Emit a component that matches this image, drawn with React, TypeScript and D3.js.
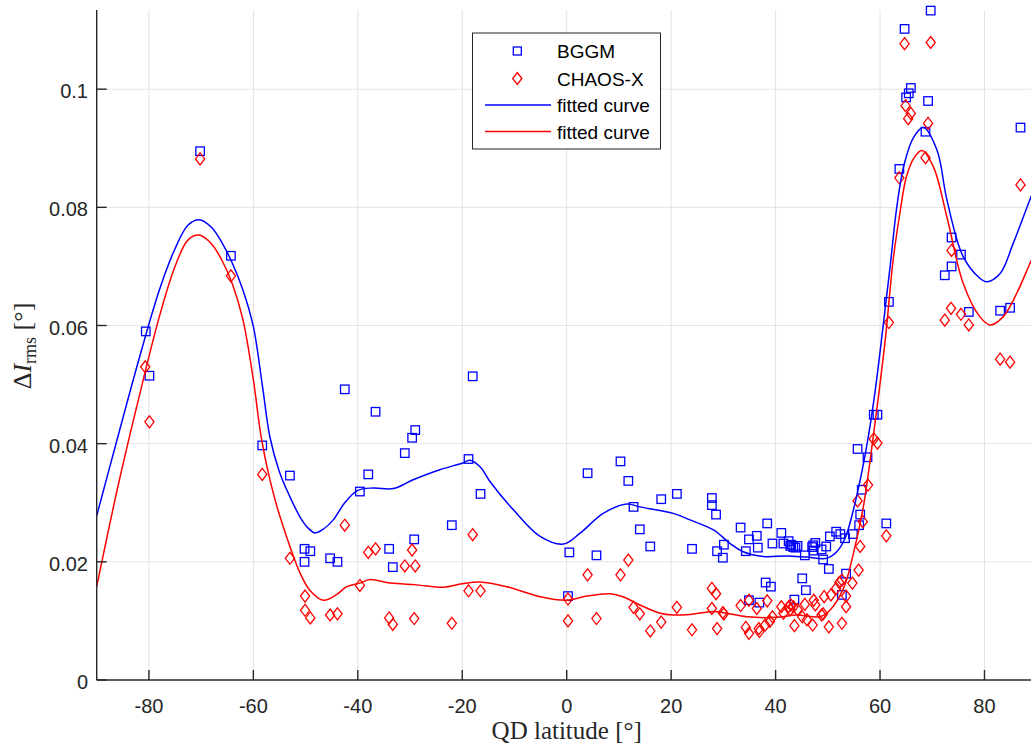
import React from 'react';
import * as d3 from 'd3';

// ---- data ----
const xTicks = [-80, -60, -40, -20, 0, 20, 40, 60, 80];
const xTickLabels = ['-80', '-60', '-40', '-20', '0', '20', '40', '60', '80'];
const yTicks = [0, 0.02, 0.04, 0.06, 0.08, 0.1];
const yTickLabels = ['0', '0.02', '0.04', '0.06', '0.08', '0.1'];

const bggmLat = [
  -80.6, -79.9, -70.2, -64.3, -58.3, -53.0, -50.2, -49.1, -50.2, -45.3, -43.9, -42.5,
  -39.6, -38.0, -36.6, -34.0, -33.3, -31.0, -29.6, -29.0, -29.2, -22.0, -18.8, -18.0,
  -16.5, 0.5, 0.25, 4.0, 5.7, 10.3, 11.8, 12.8, 14.0, 16.0, 18.1, 21.1, 24.0,
  27.8, 27.8, 28.6, 30.1, 28.8, 29.9, 33.3, 34.9, 36.4, 34.3, 36.6, 38.4, 39.4,
  41.1, 41.5, 42.5, 42.8, 43.4, 44.2, 45.6, 47.0, 47.6, 47.3, 48.8, 49.1, 49.7,
  50.2, 50.4, 51.6, 52.4, 53.3, 54.8, 56.2, 56.0, 56.5, 55.7, 57.6, 58.8, 59.5,
  61.2, 45.1, 45.8, 38.1, 39.1, 34.9, 36.9, 43.6, 53.5, 52.7, 43.0, 43.8, 47.2,
  61.7, 63.7, 64.7, 65.9, 65.5, 65.0, 69.2, 68.7, 69.7, 72.4, 73.7, 73.7, 75.5,
  77.0, 83.0, 84.9, 86.9,
];
const bggmVal = [
  0.0590, 0.0515, 0.0895, 0.0718, 0.0397, 0.0346, 0.0222, 0.0218, 0.0200, 0.0206, 0.0200, 0.0492,
  0.0319, 0.0348, 0.0454, 0.0222, 0.0191, 0.0384, 0.0410, 0.0423, 0.0238, 0.0262, 0.0374, 0.0514,
  0.0315, 0.0216, 0.0142, 0.0350, 0.0211, 0.0370, 0.0337, 0.0293, 0.0255, 0.0226, 0.0306, 0.0315, 0.0222,
  0.0308, 0.0296, 0.0280, 0.0229, 0.0218, 0.0207, 0.0258, 0.0238, 0.0244, 0.0218, 0.0224, 0.0265, 0.0231,
  0.0249, 0.0231, 0.0235, 0.0227, 0.0225, 0.0227, 0.0211, 0.0225, 0.0232, 0.0219, 0.0221, 0.0204, 0.0226,
  0.0188, 0.0243, 0.0251, 0.0247, 0.0240, 0.0247, 0.0280, 0.0262, 0.0322, 0.0391, 0.0377, 0.0449, 0.0449,
  0.0265, 0.0172, 0.0152, 0.0165, 0.0158, 0.0135, 0.0131, 0.0136, 0.0180, 0.0144, 0.0229, 0.0224, 0.0228,
  0.0640, 0.0865, 0.1102, 0.1002, 0.0993, 0.0986, 0.0980, 0.0928, 0.1133, 0.0685, 0.0749, 0.0700, 0.0720,
  0.0623, 0.0625, 0.0630, 0.0935,
];

const chaosLat = [
  -80.7, -79.9, -70.2, -64.3, -58.3, -53.0, -50.1, -50.1, -49.1, -45.3, -43.9, -42.5,
  -39.6, -38.0, -36.6, -34.0, -33.3, -31.0, -29.6, -29.0, -29.2, -22.0, -18.8, -18.0,
  -16.5, 0.25, 0.25, 4.0, 5.7, 10.3, 11.8, 12.8, 14.0, 16.0, 18.1, 21.1, 24.0,
  27.8, 28.6, 27.8, 29.9, 30.1, 28.8, 33.3, 34.9, 34.3, 34.9, 36.4, 36.8, 36.9,
  38.4, 38.0, 38.9, 39.4, 41.1, 41.5, 42.5, 42.9, 43.4, 42.8, 43.6, 44.2, 45.1,
  45.6, 46.0, 47.1, 47.3, 47.6, 48.8, 49.1, 49.3, 50.2, 50.6, 51.6, 52.2, 52.7,
  52.7, 53.5, 53.5, 54.7, 55.9, 56.2, 56.7, 55.7, 57.7, 58.8, 59.5, 61.2,
  61.7, 63.7, 64.7, 64.9, 65.9, 65.4, 69.2, 68.7, 69.7, 72.4, 73.7, 73.6, 75.5,
  77.0, 83.0, 84.9, 86.9,
];
const chaosVal = [
  0.0530, 0.0437, 0.0882, 0.0684, 0.0348, 0.0206, 0.0142, 0.0118, 0.0105, 0.0110, 0.0112, 0.0262,
  0.0160, 0.0216, 0.0222, 0.0105, 0.0094, 0.0193, 0.0220, 0.0193, 0.0104, 0.0096, 0.0151, 0.0246,
  0.0151, 0.0137, 0.0100, 0.0178, 0.0104, 0.0178, 0.0203, 0.0123, 0.0112, 0.0083, 0.0098, 0.0123, 0.0085,
  0.0155, 0.0146, 0.0121, 0.0114, 0.0112, 0.0087, 0.0126, 0.0135, 0.0089, 0.0079, 0.0121, 0.0087, 0.0082,
  0.0134, 0.0093, 0.0099, 0.0107, 0.0124, 0.0113, 0.0124, 0.0127, 0.0124, 0.0119, 0.0092, 0.0119, 0.0107,
  0.0128, 0.0102, 0.0093, 0.0135, 0.0127, 0.0110, 0.0112, 0.0141, 0.0090, 0.0144, 0.0155, 0.0165, 0.0169,
  0.0096, 0.0124, 0.0142, 0.0164, 0.0186, 0.0226, 0.0268, 0.0303, 0.0330, 0.0408, 0.0401, 0.0244,
  0.0605, 0.0850, 0.1077, 0.0972, 0.0959, 0.0950, 0.0942, 0.0884, 0.1079, 0.0609, 0.0727, 0.0629, 0.0619,
  0.0601, 0.0543, 0.0538, 0.0838,
];

const fitBlueLat = [
  -90, -86, -82, -78, -75, -72.5, -70.4, -68, -66, -64, -62, -60, -58.3, -56.8, -55, -53,
  -51, -49.5, -48.2, -46.5, -44.7, -42.5, -40, -37, -33.2, -29.4, -24.3, -20, -18.5, -16.5,
  -14.7, -10.2, -5.1, -0.6, 2.5, 7.0, 11.5, 14.0, 20.4, 23.6, 28.1, 31.3, 33.8, 37.7, 42.1,
  46.0, 49.8, 51.7, 53.3, 54.9, 56.8, 58.0, 59.0, 60.0, 61.0, 62.0, 63.2, 64.6, 66.4, 68.3,
  70.9, 72.8, 75.9, 79.1, 80.4, 83.0, 85.5, 88.7, 90,
];
const fitBlueVal = [
  0.0278, 0.0410, 0.0540, 0.0660, 0.0730, 0.0770, 0.0779, 0.0766, 0.0740, 0.0705, 0.0660, 0.0598, 0.0500, 0.0410, 0.0352, 0.0310,
  0.0275, 0.0257, 0.0249, 0.0256, 0.0271, 0.0300, 0.0321, 0.0325, 0.0324, 0.0339, 0.0356, 0.0367, 0.0372, 0.0360,
  0.0336, 0.0288, 0.0243, 0.0230, 0.0248, 0.0282, 0.0298, 0.0293, 0.0282, 0.0271, 0.0254, 0.0231, 0.0217, 0.0209, 0.0210,
  0.0208, 0.0206, 0.0217, 0.0240, 0.0288, 0.0365, 0.0425, 0.0485, 0.0555, 0.0630, 0.0705, 0.0800, 0.0872, 0.0918, 0.0935,
  0.0897, 0.0813, 0.0717, 0.0680, 0.0674, 0.0688, 0.0739, 0.0813, 0.0840,
];

const fitRedLat = [
  -90, -86, -82, -78, -75, -72.5, -70.4, -68, -66, -64, -62, -60, -58.4, -56, -53, -51,
  -49.2, -46.6, -44, -42.1, -39.6, -37.7, -33.8, -28.7, -23.6, -20, -16.6, -11.5, -5.1, 0,
  3.8, 8.3, 10.8, 14.0, 17.9, 20.4, 23.6, 28.1, 30.6, 34.5, 40.2, 44.0, 48.5, 50.4, 53.0,
  54.9, 56.8, 58.7, 61.0, 62.5, 63.8, 65.0, 66.4, 68.0, 70.2, 72.8, 75.9, 79.1, 81.1, 83.6,
  86.2, 88.7, 90,
];
const fitRedVal = [
  0.0158, 0.0325, 0.0475, 0.0615, 0.0700, 0.0745, 0.0753, 0.0738, 0.0710, 0.0670, 0.0610, 0.0508, 0.0406, 0.0310, 0.0226, 0.0180,
  0.0152, 0.0135, 0.0145, 0.0158, 0.0164, 0.0170, 0.0164, 0.0161, 0.0157, 0.0163, 0.0166, 0.0158, 0.0141, 0.0135,
  0.0142, 0.0146, 0.0141, 0.0127, 0.0113, 0.0110, 0.0111, 0.0116, 0.0113, 0.0107, 0.0106, 0.0110, 0.0107, 0.0118, 0.0155,
  0.0214, 0.0293, 0.0412, 0.0576, 0.0710, 0.0790, 0.0850, 0.0882, 0.0896, 0.0869, 0.0784, 0.0672, 0.0615, 0.0601, 0.0615,
  0.0655, 0.0705, 0.0730,
];

const legendLabels = ['BGGM', 'CHAOS-X', 'fitted curve', 'fitted curve'];

const BLUE = '#0000ff';
const RED = '#ff0000';
const AXIS = '#262626';
const GRID = '#e3e3e3';
const SANS = '"Liberation Sans", Arial, Helvetica, sans-serif';
const SERIF = '"Liberation Serif", "DejaVu Serif", serif';

const W = 1031;
const H = 748;
const M = { left: 96.7, top: 10, bottom: 680, right: 1036.7 };

const x = d3.scaleLinear().domain([-90, 90]).range([M.left, M.right]);
const y = d3.scaleLinear().domain([0, 0.1134]).range([M.bottom, M.top]);

const line = d3
  .line<[number, number]>()
  .x((d) => x(d[0]))
  .y((d) => y(d[1]))
  .curve(d3.curveCatmullRom.alpha(0.5));

const sq = 8.5;
const diamond = (cx: number, cy: number) => {
  const hw = 4.6;
  const hh = 6;
  return `M${cx},${cy - hh}L${cx + hw},${cy}L${cx},${cy + hh}L${cx - hw},${cy}Z`;
};

export default function App() {
  const blueFit = fitBlueLat.map((l, i) => [l, fitBlueVal[i]] as [number, number]);
  const redFit = fitRedLat.map((l, i) => [l, fitRedVal[i]] as [number, number]);
  const legendY = [51, 78.5, 105, 131.5];
  return (
    <svg
      width={W}
      height={H}
      style={{ position: 'absolute', left: 0, top: 0, background: '#fff' }}
    >
      <defs>
        <clipPath id="plotclip">
          <rect x={M.left} y={M.top - 6} width={M.right - M.left} height={M.bottom - M.top + 6} />
        </clipPath>
      </defs>
      <rect x={0} y={0} width={W} height={H} fill="#fff" />
      {/* grid */}
      {xTicks.map((t) => (
        <line key={'gx' + t} x1={x(t)} x2={x(t)} y1={M.top} y2={M.bottom} stroke={GRID} strokeWidth={1} />
      ))}
      {yTicks.slice(1).map((t) => (
        <line key={'gy' + t} x1={M.left} x2={M.right} y1={y(t)} y2={y(t)} stroke={GRID} strokeWidth={1} />
      ))}
      <g clipPath="url(#plotclip)">
        {bggmLat.map((l, i) => (
          <rect
            key={'b' + i}
            x={x(l) - sq / 2}
            y={y(bggmVal[i]) - sq / 2}
            width={sq}
            height={sq}
            fill="none"
            stroke={BLUE}
            strokeWidth={1.3}
          />
        ))}
        {chaosLat.map((l, i) => (
          <path key={'c' + i} d={diamond(x(l), y(chaosVal[i]))} fill="none" stroke={RED} strokeWidth={1.3} />
        ))}
        <path d={line(blueFit) || ''} fill="none" stroke={BLUE} strokeWidth={1.5} />
        <path d={line(redFit) || ''} fill="none" stroke={RED} strokeWidth={1.5} />
      </g>
      {/* axes */}
      <line x1={M.left} x2={M.left} y1={M.top} y2={M.bottom} stroke={AXIS} strokeWidth={1.4} />
      <line x1={M.left} x2={W} y1={M.bottom} y2={M.bottom} stroke={AXIS} strokeWidth={1.4} />
      {xTicks.map((t, i) => (
        <g key={'xt' + t}>
          <line x1={x(t)} x2={x(t)} y1={M.bottom} y2={M.bottom - 10} stroke={AXIS} strokeWidth={1.4} />
          <text x={x(t)} y={712.5} textAnchor="middle" fontFamily={SANS} fontSize={20} fill={AXIS}>
            {xTickLabels[i]}
          </text>
        </g>
      ))}
      {yTicks.map((t, i) => (
        <g key={'yt' + t}>
          <line x1={M.left} x2={M.left + 10} y1={y(t)} y2={y(t)} stroke={AXIS} strokeWidth={1.4} />
          <text x={88} y={y(t) + 9} textAnchor="end" fontFamily={SANS} fontSize={20} fill={AXIS}>
            {yTickLabels[i]}
          </text>
        </g>
      ))}
      {/* axis titles */}
      <text x={566.7} y={739} textAnchor="middle" fontFamily={SERIF} fontSize={25} fill={AXIS}>
        QD latitude [°]
      </text>
      <text transform="translate(31,346) rotate(-90)" textAnchor="middle" fontFamily={SERIF} fontSize={26} fill={AXIS}>
        Δ<tspan fontStyle="italic">I</tspan>
        <tspan fontSize={18} dy={5}>rms</tspan>
        <tspan dy={-5}> [°]</tspan>
      </text>
      {/* legend */}
      <rect x={472.5} y={33} width={188} height={116} fill="#fff" stroke={AXIS} strokeWidth={1} />
      <rect x={517.3 - 4} y={legendY[0] - 4} width={8} height={8} fill="none" stroke={BLUE} strokeWidth={1.3} />
      <path d={diamond(517.3, legendY[1])} fill="none" stroke={RED} strokeWidth={1.3} />
      <line x1={485} x2={551} y1={legendY[2]} y2={legendY[2]} stroke={BLUE} strokeWidth={1.5} />
      <line x1={485} x2={551} y1={legendY[3]} y2={legendY[3]} stroke={RED} strokeWidth={1.5} />
      {legendLabels.map((lab, i) => (
        <text key={'lg' + i} x={557} y={legendY[i] + 7} fontFamily={SANS} fontSize={19} fill="#000">
          {lab}
        </text>
      ))}
    </svg>
  );
}
